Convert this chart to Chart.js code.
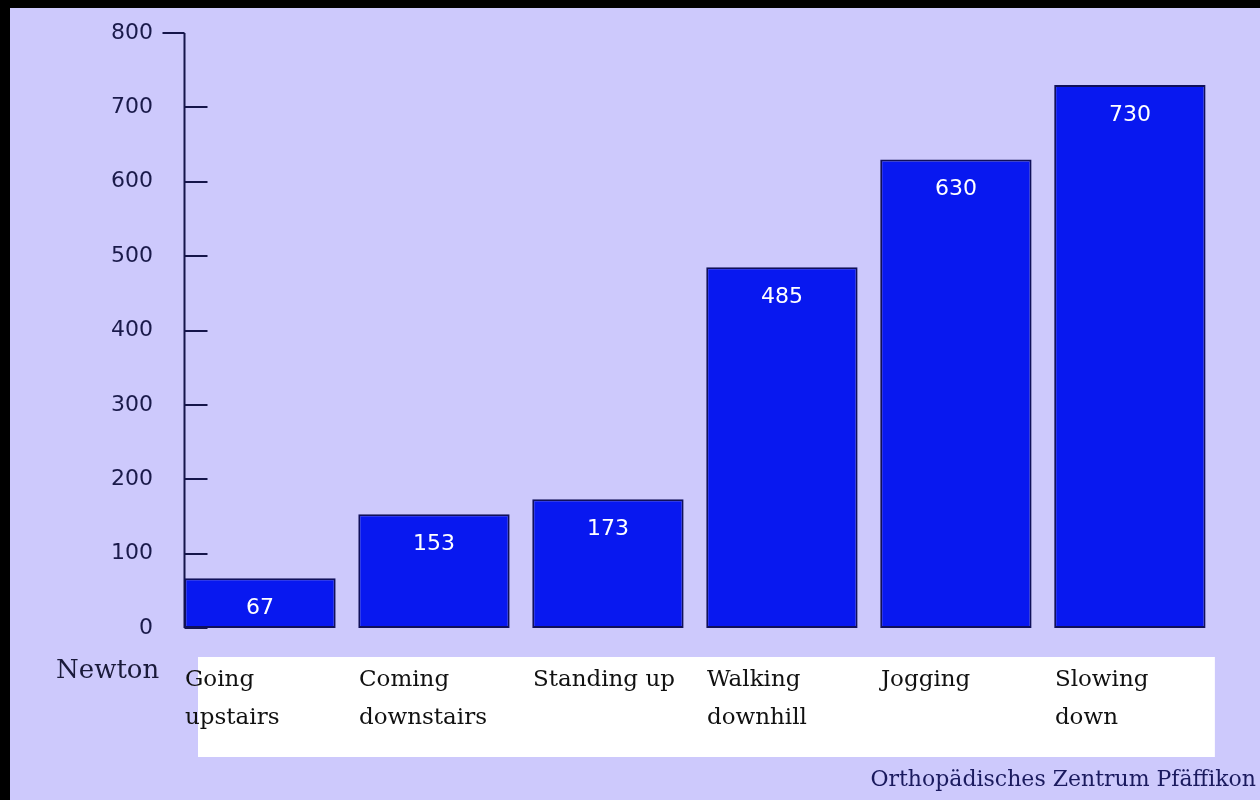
<!DOCTYPE html>
<html>
<head>
<meta charset="utf-8">
<script src="https://cdn.jsdelivr.net/npm/chart.js@4"></script>
<style>
  html, body { margin: 0; padding: 0; background: #000; }
  #frame {
    position: absolute; left: 10px; top: 8px;
    width: 1250px; height: 792px;
    background: #cdc9fc;
  }
  #frame canvas { position: absolute; left: 0; top: 0; }
  .note { position: absolute; font-family: "DejaVu Serif", serif; white-space: nowrap; }
  #unit { left: 46px; top: 646px; font-size: 26px; color: #1a1a3a; }
  #credit { right: 4px; top: 758px; font-size: 22px; color: #1a1a5e; }
</style>
</head>
<body>
<div id="frame">
  <canvas id="forceChart" width="1250" height="792"></canvas>
  <div id="unit" class="note">Newton</div>
  <div id="credit" class="note">Orthopädisches Zentrum Pfäffikon</div>
</div>
<script>
// Kniegelenk-Belastung je Aktivität
const activities = [
    ['Going', 'upstairs'],
    ['Coming', 'downstairs'],
    ['Standing up'],
    ['Walking', 'downhill'],
    ['Jogging'],
    ['Slowing', 'down']
];
const forces = [67, 153, 173, 485, 630, 730];
const yTicks = [0, 100, 200, 300, 400, 500, 600, 700, 800];

const axisColor = '#15154a';

// weisser Kasten hinter den Beschriftungen
const labelBox = {
    id: 'labelBox',
    beforeDraw(chart) {
        const { ctx, chartArea } = chart;
        ctx.save();
        ctx.fillStyle = '#ffffff';
        ctx.fillRect(chartArea.left + 25, chartArea.bottom + 29,
            chartArea.right - chartArea.left - 27, 100);
        ctx.restore();
    }
};

// y-Achse mit Strichen, links am ersten Balken
const yAxisLine = {
    id: 'yAxisLine',
    beforeDatasetsDraw(chart) {
        const { ctx } = chart;
        const y = chart.scales.y;
        const first = chart.getDatasetMeta(0).data[0];
        const x = Math.round(first.x - first.width / 2) + 0.5;
        const top = y.getPixelForValue(yTicks[yTicks.length - 1]);
        ctx.save();
        ctx.strokeStyle = axisColor;
        ctx.lineWidth = 2;
        ctx.beginPath();
        ctx.moveTo(x, top);
        ctx.lineTo(x, y.getPixelForValue(0));
        yTicks.forEach(v => {
            const py = Math.round(y.getPixelForValue(v));
            if (v === yTicks[yTicks.length - 1]) {
                ctx.moveTo(x - 22, py);
                ctx.lineTo(x, py);
            } else {
                ctx.moveTo(x, py);
                ctx.lineTo(x + 23, py);
            }
        });
        ctx.stroke();
        ctx.restore();
    }
};

// Werte in den Balken
const valueLabels = {
    id: 'valueLabels',
    afterDatasetsDraw(chart) {
        const { ctx } = chart;
        ctx.save();
        ctx.fillStyle = '#ffffff';
        ctx.font = '22px "DejaVu Sans"';
        ctx.textAlign = 'center';
        ctx.textBaseline = 'middle';
        chart.getDatasetMeta(0).data.forEach((bar, i) => {
            ctx.fillText(String(forces[i]), bar.x, bar.y + 30);
        });
        ctx.restore();
    }
};

const ctx = document.getElementById('forceChart').getContext('2d');
new Chart(ctx, {
    type: 'bar',
    data: {
        labels: activities,
        datasets: [{
            data: forces,
            backgroundColor: '#0818f0',
            borderColor: '#10105a',
            borderWidth: 2,
            borderSkipped: false,
            categoryPercentage: 1,
            barPercentage: 0.87
        }]
    },
    options: {
        responsive: false,
        animation: false,
        layout: { padding: { top: 25, right: 43, left: 0, bottom: 0 } },
        plugins: {
            legend: { display: false },
            tooltip: { enabled: false }
        },
        scales: {
            y: {
                min: 0,
                max: 800,
                afterFit: s => {
                    s.width = 163;
                    s.paddingTop = 0;
                    s.paddingBottom = 0;
                },
                afterBuildTicks: s => { s.ticks = yTicks.map(v => ({ value: v })); },
                border: { display: false },
                grid: { display: false, drawTicks: false },
                ticks: {
                    padding: 20,
                    color: '#1a1a4a',
                    font: { family: 'DejaVu Sans', size: 22 }
                }
            },
            x: {
                afterFit: s => { s.height = 172; },
                border: { display: false },
                grid: { display: false, drawTicks: false },
                ticks: {
                    align: 'start',
                    labelOffset: -75,
                    padding: 33,
                    maxRotation: 0,
                    autoSkip: false,
                    color: '#111111',
                    font: { family: 'DejaVu Serif', size: 23, lineHeight: 1.65 }
                }
            }
        }
    },
    plugins: [labelBox, yAxisLine, valueLabels]
});
</script>
</body>
</html>
